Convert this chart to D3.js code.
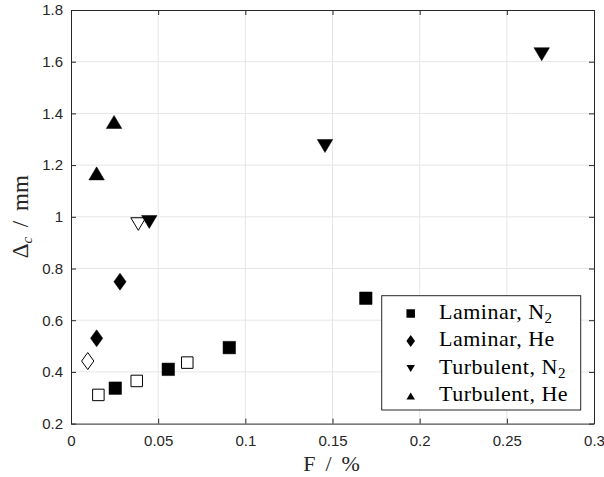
<!DOCTYPE html>
<html><head><meta charset="utf-8">
<script src="https://cdn.jsdelivr.net/npm/d3@7"></script>
<style>body{margin:0;background:#fff}svg{display:block}</style>
</head><body>
<script>
// ---- data ----
const xTicks = [0, 0.05, 0.1, 0.15, 0.2, 0.25, 0.3];
const xTickLabels = ["0", "0.05", "0.1", "0.15", "0.2", "0.25", "0.3"];
const yTicks = [0.2, 0.4, 0.6, 0.8, 1.0, 1.2, 1.4, 1.6, 1.8];
const yTickLabels = ["0.2", "0.4", "0.6", "0.8", "1", "1.2", "1.4", "1.6", "1.8"];

const lamN2F = [0.0254, 0.0558, 0.0908, 0.1691];
const lamN2D = [0.337, 0.410, 0.494, 0.685];
const lamN2OpenF = [0.0157, 0.0377, 0.0667];
const lamN2OpenD = [0.311, 0.365, 0.436];
const lamHeF = [0.0147, 0.0281];
const lamHeD = [0.530, 0.749];
const lamHeOpenF = [0.0096];
const lamHeOpenD = [0.442];
const turbN2F = [0.0449, 0.1457, 0.2700];
const turbN2D = [0.980, 1.274, 1.629];
const turbN2OpenF = [0.0386];
const turbN2OpenD = [0.972];
const turbHeF = [0.0147, 0.0247];
const turbHeD = [1.168, 1.367];

const legendLabels = [["Laminar, N", "2"], ["Laminar, He", ""], ["Turbulent, N", "2"], ["Turbulent, He", ""]];
const legendShapes = ["square", "diamond", "down", "up"];

// ---- layout ----
const W = 604, H = 477;
const L = 71, R = 594, T = 10, B = 423.6;
const x = d3.scaleLinear().domain([0, 0.3]).range([L, R]);
const y = d3.scaleLinear().domain([0.2, 1.8]).range([B, T]);
const axisCol = "#262626";
const serif = "'Liberation Serif', 'Times New Roman', serif";

const svg = d3.select("body").append("svg").attr("width", W).attr("height", H);

// grid
svg.append("g").selectAll("line").data(xTicks.slice(1, -1)).join("line")
  .attr("x1", d => x(d)).attr("x2", d => x(d)).attr("y1", T).attr("y2", B)
  .attr("stroke", "#e6e6e6").attr("stroke-width", 1);
svg.append("g").selectAll("line").data(yTicks.slice(1, -1)).join("line")
  .attr("y1", d => y(d)).attr("y2", d => y(d)).attr("x1", L).attr("x2", R)
  .attr("stroke", "#e6e6e6").attr("stroke-width", 1);

// shapes
function shapePath(kind, s) {
  const p = d3.path();
  if (kind === "square") { p.rect(-s/2, -s/2, s, s); }
  else if (kind === "diamond") { const w = s*0.36, h = s*0.5; p.moveTo(0,-h); p.lineTo(w,0); p.lineTo(0,h); p.lineTo(-w,0); p.closePath(); }
  else if (kind === "down") { const w = s*0.5, h = s*0.42; p.moveTo(-w,-h); p.lineTo(w,-h); p.lineTo(0,h); p.closePath(); }
  else if (kind === "up") { const w = s*0.5, h = s*0.42; p.moveTo(-w,h); p.lineTo(w,h); p.lineTo(0,-h); p.closePath(); }
  return p.toString();
}
function drawSeries(F, D, kind, size, filled) {
  svg.append("g").selectAll("path").data(F.map((f, i) => [f, D[i]])).join("path")
    .attr("transform", d => `translate(${x(d[0])},${y(d[1])})`)
    .attr("d", shapePath(kind, size))
    .attr("fill", filled ? "#000" : "#fff")
    .attr("stroke", "#000").attr("stroke-width", filled ? 0.5 : 1);
}
drawSeries(lamN2OpenF, lamN2OpenD, "square", 11.5, false);
drawSeries(lamN2F, lamN2D, "square", 12.5, true);
drawSeries(lamHeOpenF, lamHeOpenD, "diamond", 17, false);
drawSeries(lamHeF, lamHeD, "diamond", 17, true);
drawSeries(turbN2OpenF, turbN2OpenD, "down", 15, false);
drawSeries(turbN2F, turbN2D, "down", 15.5, true);
drawSeries(turbHeF, turbHeD, "up", 15.5, true);

// axes box
const gx = svg.append("g").attr("transform", `translate(0,${B})`)
  .call(d3.axisBottom(x).tickValues(xTicks).tickFormat((d, i) => xTickLabels[i]).tickSizeInner(-5).tickSizeOuter(0).tickPadding(12));
const gxt = svg.append("g").attr("transform", `translate(0,${T})`)
  .call(d3.axisTop(x).tickValues(xTicks).tickFormat("").tickSizeInner(-5).tickSizeOuter(0));
const gy = svg.append("g").attr("transform", `translate(${L},0)`)
  .call(d3.axisLeft(y).tickValues(yTicks).tickFormat((d, i) => yTickLabels[i]).tickSizeInner(-5).tickSizeOuter(0).tickPadding(8));
const gyr = svg.append("g").attr("transform", `translate(${R},0)`)
  .call(d3.axisRight(y).tickValues(yTicks).tickFormat("").tickSizeInner(-5).tickSizeOuter(0));
[gx, gxt, gy, gyr].forEach(g => {
  g.selectAll("path.domain").attr("stroke", axisCol).attr("stroke-width", 1);
  g.selectAll(".tick line").attr("stroke", axisCol);
  g.selectAll("text").attr("fill", axisCol).style("font-family", "'Liberation Sans', Arial, sans-serif").style("font-size", "15px");
});

// axis titles
svg.append("text").attr("x", (L + R) / 2 - 1).attr("y", 471)
  .attr("text-anchor", "middle").style("font-family", serif).style("font-size", "22px")
  .style("word-spacing", "4.5px").attr("fill", axisCol)
  .text("F / %");
const yl = svg.append("text").attr("transform", `translate(28,${(T + B) / 2}) rotate(-90)`)
  .attr("text-anchor", "middle").style("font-family", serif).style("font-size", "23px")
  .style("word-spacing", "4px").attr("fill", axisCol);
yl.append("tspan").text("Δ");
yl.append("tspan").attr("dy", 4).style("font-size", "15px").style("font-style", "italic").text("c");
yl.append("tspan").attr("dy", -4).text(" / mm");

// legend
const lg = svg.append("g");
lg.append("rect").attr("x", 381.7).attr("y", 295.7).attr("width", 199).attr("height", 114.3)
  .attr("fill", "#fff").attr("stroke", "#262626").attr("stroke-width", 1);
const rowBase = [318.5, 346, 373.5, 401];
legendLabels.forEach((lab, i) => {
  lg.append("path").attr("transform", `translate(410.7,${rowBase[i] - 5})`)
    .attr("d", shapePath(legendShapes[i], legendShapes[i] === "diamond" ? 12 : 8.5)).attr("fill", "#000");
  const t = lg.append("text").attr("x", 439).attr("y", rowBase[i])
    .style("font-family", serif).style("font-size", "22px").style("letter-spacing", "0.5px").attr("fill", "#000");
  t.append("tspan").text(lab[0]);
  if (lab[1]) t.append("tspan").attr("dy", 4).style("font-size", "15px").text(lab[1]);
});
</script>
</body></html>
